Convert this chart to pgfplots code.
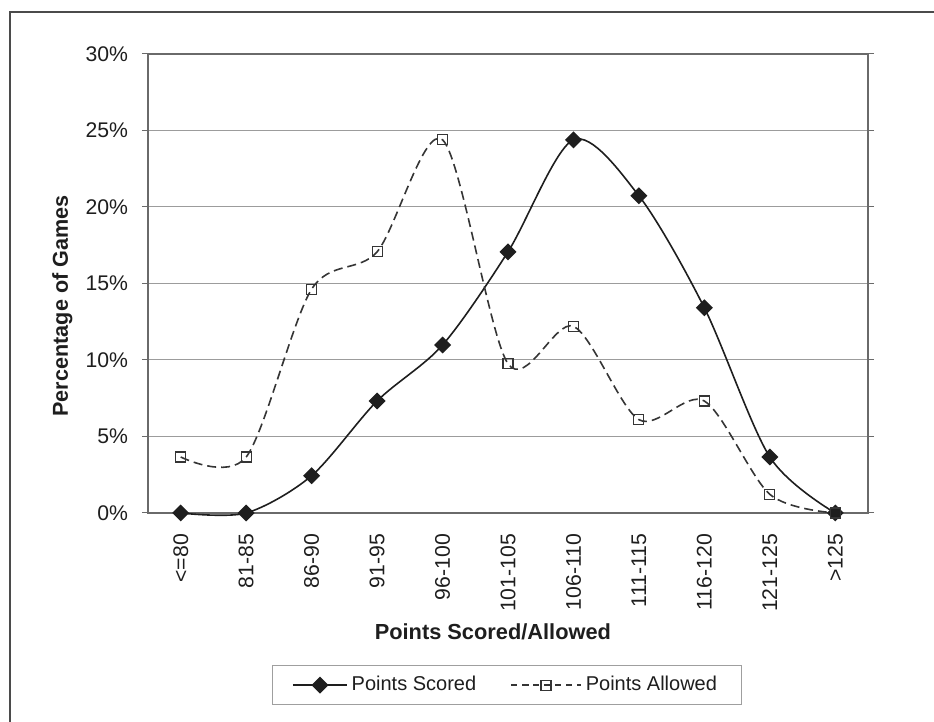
\documentclass[border=0pt]{standalone}
\usepackage{fontspec}
\setmainfont{Liberation Sans}
\usepackage{pgfplots}
\usepackage{pgfplotstable}
\pgfplotsset{compat=1.18}

\definecolor{ink}{HTML}{1E1E1E}
\definecolor{gridc}{HTML}{9C9C9C}
\definecolor{axisc}{HTML}{6A6A6A}

% Share of the 82 games falling in each points band
\pgfplotstableread{
x scored allowed
0  0.00  3.66
1  0.00  3.66
2  2.44 14.63
3  7.32 17.07
4 10.98 24.39
5 17.07  9.76
6 24.39 12.20
7 20.73  6.10
8 13.41  7.32
9  3.66  1.22
10 0.00  0.00
}\games

\begin{document}
\begin{tikzpicture}[x=1pt,y=1pt]
\useasboundingbox (0,0) rectangle (467,361);
\draw[ink!80, line width=1pt] (5,0) -- (5,355) -- (467,355);
\begin{axis}[
  at={(74pt,104.5pt)}, anchor=south west,
  scale only axis, width=360pt, height=229.5pt,
  xmin=-0.5, xmax=10.5, ymin=0, ymax=30,
  clip=false,
  font=\fontsize{10.6}{12.7}\selectfont,
  /pgf/number format/assume math mode=true,
  xtick={0,...,10},
  xticklabels={{<=80},{81-85},{86-90},{91-95},{96-100},{101-105},{106-110},{111-115},{116-120},{121-125},{>125}},
  xtick style={draw=none},
  minor xtick={-0.5,0.5,...,10.5},
  minor tick length=2.5pt,
  minor x tick style={axisc, line width=0.5pt},
  x tick label style={yshift=-4pt, rotate=90, anchor=east, text=ink,
    font=\fontsize{10.6}{12.7}\selectfont},
  ytick={0,5,...,30},
  yticklabels={0\%,5\%,10\%,15\%,20\%,25\%,30\%},
  y tick label style={text=ink, xshift=-3.5pt},
  ytick style={axisc, line width=0.5pt},
  major tick length=3pt,
  tick align=outside,
  ymajorgrids,
  major grid style={gridc, line width=0.5pt},
  axis line style={axisc, line width=0.6pt},
  xlabel={Points Scored/Allowed},
  ylabel={Percentage of Games},
  xlabel style={font=\fontsize{10.9}{13}\selectfont\bfseries, text=ink, at={(axis description cs:0.479,-0.259)}, anchor=center},
  ylabel style={font=\fontsize{10.8}{13}\selectfont\bfseries, text=ink, at={(axis description cs:-0.119,0.451)}, anchor=center},
  legend columns=2,
  legend cell align=left,
  legend style={at={(0.498,-0.375)}, anchor=center, draw=gray!75, line width=0.5pt,
    inner xsep=10pt, inner ysep=3.5pt, text=ink,
    font=\fontsize{10}{12}\selectfont,
    /tikz/every even column/.append style={column sep=15pt}},
]
\addplot[ink, line width=0.8pt, smooth, mark=square*, mark size=2.6pt,
  mark options={rotate=45, solid, fill=ink},
  legend image code/.code={\draw[mark repeat=2,mark phase=2] plot coordinates {(0pt,0pt) (13.5pt,0pt) (27pt,0pt)};}]
  table[x=x, y=scored]{\games};
\addlegendentry{Points Scored}
\addplot[ink!90, line width=0.8pt, smooth, dash pattern=on 4.5pt off 2.5pt,
  mark=square, mark size=2.5pt, mark options={solid, fill=white, line width=0.55pt},
  legend image code/.code={\draw[dash pattern=on 3pt off 2.5pt, mark repeat=2,mark phase=2] plot coordinates {(0pt,0pt) (17.5pt,0pt) (35pt,0pt)};}]
  table[x=x, y=allowed]{\games};
\addlegendentry{Points Allowed}
\end{axis}
\end{tikzpicture}
\end{document}
